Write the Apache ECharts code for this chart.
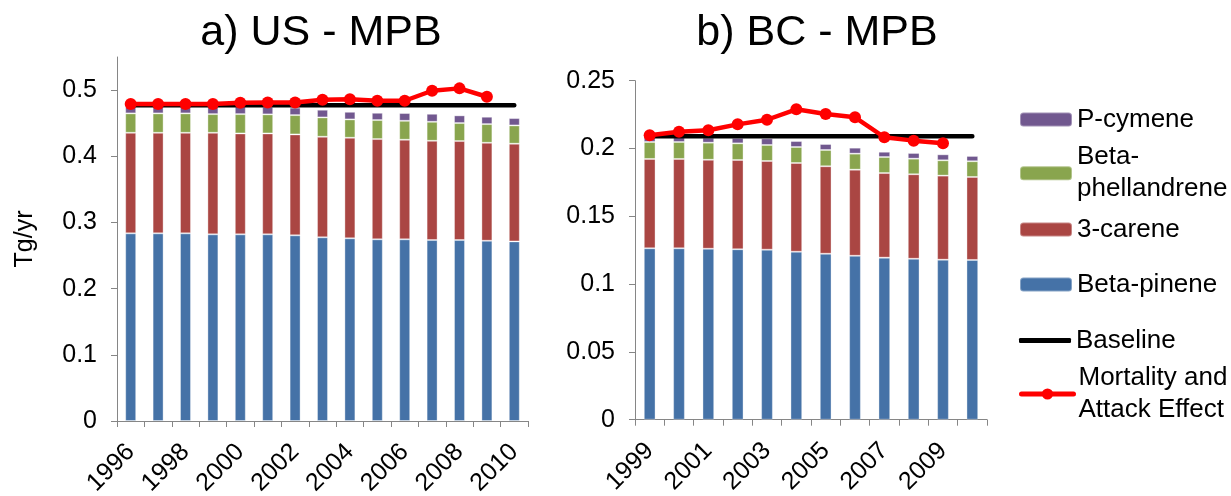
<!DOCTYPE html>
<html>
<head>
<meta charset="utf-8">
<script src="https://cdn.jsdelivr.net/npm/echarts@6/dist/echarts.min.js"></script>
<style>html,body{margin:0;padding:0;background:#fff}#c{width:1231px;height:496px}</style>
</head>
<body>
<div id="c"></div>
<script>
// ---- Data ----
const usYears = ['1996','1997','1998','1999','2000','2001','2002','2003','2004','2005','2006','2007','2008','2009','2010'];
const usBetaPinene = [0.2835,0.2835,0.2835,0.282,0.282,0.282,0.2805,0.2775,0.276,0.2745,0.2745,0.2734,0.2734,0.2724,0.2714];
const us3Carene = [0.152,0.152,0.152,0.1535,0.1525,0.1525,0.1525,0.152,0.152,0.1515,0.1505,0.15,0.1496,0.148,0.1476];
const usBetaPhell = [0.0293,0.0293,0.0293,0.0282,0.0292,0.0288,0.0292,0.0292,0.0277,0.0287,0.0286,0.0287,0.0272,0.0282,0.0276];
const usPCymene = [0.0107,0.0107,0.0107,0.0113,0.0113,0.0112,0.0113,0.0116,0.0115,0.011,0.0117,0.0121,0.0116,0.0111,0.0111];
const usBaseline = [0.477,0.477,0.477,0.477,0.477,0.477,0.477,0.477,0.477,0.477,0.477,0.477,0.477,0.477,0.477];
const usMortality = [0.4789,0.4789,0.4789,0.4789,0.4808,0.4814,0.4814,0.4854,0.486,0.4839,0.4839,0.499,0.5026,0.4899,null];

const bcYears = ['1999','2000','2001','2002','2003','2004','2005','2006','2007','2008','2009','2010'];
const bcBetaPinene = [0.1264,0.1264,0.1261,0.1257,0.1254,0.1239,0.1224,0.1209,0.1195,0.1187,0.118,0.1178];
const bc3Carene = [0.0659,0.0659,0.0656,0.0658,0.0654,0.0654,0.0645,0.0635,0.0624,0.0623,0.062,0.0612];
const bcBetaPhell = [0.0125,0.0125,0.0126,0.0123,0.0118,0.0118,0.012,0.0118,0.0118,0.0115,0.0113,0.0116];
const bcPCymene = [0.0037,0.0035,0.0037,0.004,0.0049,0.0044,0.0044,0.0044,0.0039,0.0042,0.0044,0.0039];
const bcBaseline = [0.2091,0.2091,0.2091,0.2091,0.2091,0.2091,0.2091,0.2091,0.2091,0.2091,0.2091,0.2091];
const bcMortality = [0.2098,0.2124,0.2134,0.2178,0.2212,0.2289,0.2254,0.223,0.2083,0.2058,0.2038,null];

const titles = ['a) US - MPB', 'b) BC - MPB'];
const yLabelName = 'Tg/yr';

// ---- Styles ----
const FONT = '"Liberation Sans", Arial, sans-serif';
const C = {pinene:'#4572A7', carene:'#AA4643', phell:'#89A54E', cymene:'#71588F', base:'#000000', mort:'#FF0000'};
const AXIS = '#868686';

function xAxisCfg(gi, cats){
  return {
    type:'category', gridIndex:gi, data:cats, boundaryGap:true,
    axisLine:{show:true, lineStyle:{color:AXIS, width:1}},
    axisTick:{show:true, interval:0, length:6, lineStyle:{color:AXIS}},
    axisLabel:{interval:1, rotate:45, margin:27, color:'#000', fontFamily:FONT, fontSize:25},
    splitLine:{show:false}
  };
}
function yAxisCfg(gi, max, interval, name){
  return {
    type:'value', gridIndex:gi, min:0, max:max, interval:interval,
    name:name||'', nameLocation:'middle', nameGap:79, nameRotate:90,
    nameTextStyle:{color:'#000', fontFamily:FONT, fontSize:25},
    axisLine:{show:true, lineStyle:{color:AXIS, width:1}},
    axisTick:{show:true, length:6, lineStyle:{color:AXIS}},
    axisLabel:{color:'#000', fontFamily:FONT, fontSize:25, margin:20, showMaxLabel: max===0.25},
    splitLine:{show:false}
  };
}
function barSeries(name, gi, data, color){
  return {name:name, type:'bar', xAxisIndex:gi, yAxisIndex:gi, stack:'s'+gi, data:data, barWidth:'40%',
    itemStyle:{color:color, borderColor:'rgba(255,255,255,0.35)', borderWidth:1}, z:2};
}
function lineSeries(name, gi, data, color, sym){
  return {name:name, type:'line', xAxisIndex:gi, yAxisIndex:gi, data:data,
    symbol: sym ? 'circle' : 'none', symbolSize:12, showSymbol:!!sym,
    lineStyle:{color:color, width:4.5, cap:'round'}, itemStyle:{color:color},
    z: sym ? 5 : 4, animation:false};
}

const legTxt = {color:'#000', fontFamily:FONT, fontSize:26, lineHeight:28};
const legTxt2 = {color:'#000', fontFamily:FONT, fontSize:26, lineHeight:32, padding:[32,0,0,0]};
function leg(name, top, opts){
  return Object.assign({data:[name], left:1019, top:top, padding:0, itemWidth:52, itemHeight:14,
    selectedMode:false, textStyle:legTxt, lineStyle:{width:5}}, opts||{});
}

const option = {
  backgroundColor:'#fff',
  animation:false,
  title:[
    {text:titles[0], left:316, top:7, textAlign:'center', textStyle:{fontFamily:FONT, fontSize:43, fontWeight:'normal', color:'#000'}},
    {text:titles[1], left:812, top:7, textAlign:'center', textStyle:{fontFamily:FONT, fontSize:43, fontWeight:'normal', color:'#000'}}
  ],
  grid:[
    {left:117, top:57, width:411, height:364, containLabel:false, outerBoundsMode:'none'},
    {left:635, top:80.7, width:352, height:339, containLabel:false, outerBoundsMode:'none'}
  ],
  xAxis:[xAxisCfg(0, usYears), xAxisCfg(1, bcYears)],
  yAxis:[yAxisCfg(0, 0.55, 0.1, yLabelName), yAxisCfg(1, 0.25, 0.05)],
  legend:[
    leg('P-cymene', 105.5),
    leg('Beta-phellandrene', 125.3, {textStyle:legTxt2, formatter:function(){return 'Beta-\nphellandrene';}}),
    leg('3-carene', 215.5),
    leg('Beta-pinene', 270.5),
    leg({name:'Baseline', icon:'roundRect'}, 326.5, {itemHeight:5}),
    leg('Mortality and Attack Effect', 346, {textStyle:legTxt2, formatter:function(){return 'Mortality and\nAttack Effect';}})
  ],
  series:[
    barSeries('Beta-pinene', 0, usBetaPinene, C.pinene),
    barSeries('3-carene', 0, us3Carene, C.carene),
    barSeries('Beta-phellandrene', 0, usBetaPhell, C.phell),
    barSeries('P-cymene', 0, usPCymene, C.cymene),
    lineSeries('Baseline', 0, usBaseline, C.base, false),
    lineSeries('Mortality and Attack Effect', 0, usMortality, C.mort, true),
    barSeries('Beta-pinene', 1, bcBetaPinene, C.pinene),
    barSeries('3-carene', 1, bc3Carene, C.carene),
    barSeries('Beta-phellandrene', 1, bcBetaPhell, C.phell),
    barSeries('P-cymene', 1, bcPCymene, C.cymene),
    lineSeries('Baseline', 1, bcBaseline, C.base, false),
    lineSeries('Mortality and Attack Effect', 1, bcMortality, C.mort, true)
  ]
};
const chart = echarts.init(document.getElementById('c'), null, {renderer:'canvas'});
chart.setOption(option);
</script>
</body>
</html>
